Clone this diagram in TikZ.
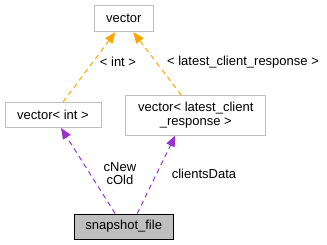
\documentclass[tikz,border=0pt]{standalone}
\usepackage{fontspec}
\setmainfont{Liberation Sans}
\usetikzlibrary{arrows.meta}
\definecolor{boxgray}{HTML}{BFBFBF}
\definecolor{edgeorange}{HTML}{FFA500}
\definecolor{edgepurple}{HTML}{9A32CD}
\tikzset{
  cls/.style={draw=boxgray, fill=white, line width=0.9pt, inner sep=0pt, align=center,
              font=\fontsize{13}{14.5}\selectfont},
  focus/.style={cls, draw=black, fill=boxgray},
  tmpl/.style={draw=edgeorange, line width=1pt, dash pattern=on 5pt off 4pt,
               -{Triangle[length=11pt,width=9pt]}},
  usage/.style={draw=edgepurple, line width=1pt, dash pattern=on 5pt off 4pt,
               -{Triangle[length=11pt,width=9pt]}},
  lbl/.style={inner sep=0pt, align=center, font=\fontsize{13}{13.5}\selectfont}
}
\begin{document}
\begin{tikzpicture}[x=1pt,y=1pt]
\useasboundingbox (0,0) rectangle (327,-245);
% class boxes
\node[cls, minimum width=59, minimum height=26] (vec) at (123.8,-18.7) {vector};
\node[cls, minimum width=96, minimum height=25] (vint) at (53,-115) {vector< int >};
\node[cls, minimum width=140, minimum height=39.5] (vlcr) at (195.8,-115.3)
  {vector< latest\_client\\\_response >};
\node[focus, minimum width=99, minimum height=25] (snap) at (123.7,-226.5) {snapshot\_file};
% template instantiation edges
\draw[tmpl] ([xshift=10pt]vint.north) -- ([xshift=-8.5pt]vec.south);
\draw[tmpl] ([xshift=-14.5pt]vlcr.north) -- ([xshift=9.5pt]vec.south);
% member usage edges
\draw[usage] ([xshift=-8.5pt]snap.north) -- ([xshift=8pt]vint.south);
\draw[usage] ([xshift=13.5pt]snap.north) -- ([xshift=-20.5pt]vlcr.south);
% edge labels
\node[lbl] (lint) at (118,-62) {< int >};
\node[lbl] (llcr) at (243,-62) {< latest\_client\_response >};
\node[lbl] (lnew) at (120,-173.5) {cNew\\cOld};
\node[lbl] (ldata) at (204,-173.5) {clientsData};
\end{tikzpicture}
\end{document}
